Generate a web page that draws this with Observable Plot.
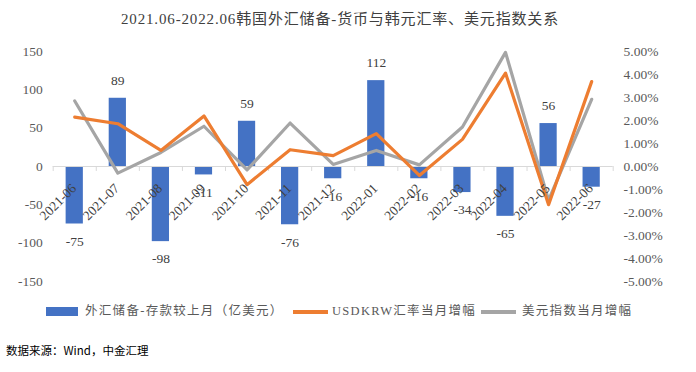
<!DOCTYPE html>
<html><head><meta charset="utf-8">
<script src="https://cdn.jsdelivr.net/npm/d3@7"></script>
<script src="https://cdn.jsdelivr.net/npm/@observablehq/plot@0.6"></script>
<style>
body{margin:0;background:#fff;width:696px;height:372px;overflow:hidden;position:relative;font-family:"Liberation Serif","Noto Sans CJK SC",serif;}
#title{position:absolute;top:0;left:0;width:696px;height:38px;line-height:38px;text-align:center;font-size:15px;letter-spacing:0.85px;color:#404040;padding-right:16px;box-sizing:border-box;}
#chart{position:absolute;top:35px;left:0;}
#legend{position:absolute;top:301px;left:0;width:696px;height:20px;font-size:12.5px;letter-spacing:1.3px;color:#595959;}
#legend span{position:absolute;top:0;line-height:20px;white-space:nowrap;}
.sw{position:absolute;}
#src{position:absolute;top:342px;left:6px;font-size:11.5px;color:#000;font-family:"Noto Sans CJK SC","Liberation Sans",sans-serif;}
g[aria-label="month-labels"] text{letter-spacing:0.6px;}
</style></head><body>
<div id="title">2021.06-2022.06韩国外汇储备-货币与韩元汇率、美元指数关系</div>
<div id="chart"></div>
<div id="legend">
  <div class="sw" style="left:46px;top:6px;width:32px;height:9px;background:#4472C4"></div>
  <span style="left:85px">外汇储备-存款较上月（亿美元）</span>
  <div class="sw" style="left:293px;top:9px;width:35px;height:3.5px;background:#ED7D31"></div>
  <span style="left:332px">USDKRW汇率当月增幅</span>
  <div class="sw" style="left:481px;top:9px;width:35px;height:3.5px;background:#A5A5A5"></div>
  <span style="left:522px">美元指数当月增幅</span>
</div>
<div id="src">数据来源：Wind，中金汇理</div>
<script>
const months = ["2021-06","2021-07","2021-08","2021-09","2021-10","2021-11","2021-12","2022-01","2022-02","2022-03","2022-04","2022-05","2022-06"];
const reserves = [-75, 89, -98, -11, 59, -76, -16, 112, -16, -34, -65, 56, -27];
const usdkrw = [2.15, 1.86, 0.70, 2.20, -0.79, 0.73, 0.47, 1.43, -0.39, 1.18, 4.06, -1.66, 3.69];
const dxy = [2.85, -0.29, 0.61, 1.75, -0.15, 1.89, 0.09, 0.70, 0.07, 1.72, 4.96, -1.46, 2.92];
const leftTicks = [-150, -100, -50, 0, 50, 100, 150];
const rightTicks = [-5, -4, -3, -2, -1, 0, 1, 2, 3, 4, 5];

const K = 30; // 1% on the right axis = 30 units on the left axis
const rows = months.map((m, i) => ({i, m, v: reserves[i], a: usdkrw[i] * K, b: dxy[i] * K}));
const bounds = d3.range(months.length + 1).map(i => i - 0.5);

const chart = Plot.plot({
  width: 696, height: 260,
  marginTop: 16, marginBottom: 14, marginLeft: 52.7, marginRight: 83.3,
  style: {fontFamily: "Liberation Serif, serif", fontSize: "13px", color: "#595959", background: "transparent"},
  x: {type: "linear", domain: [-0.5, months.length - 0.5], axis: null},
  y: {domain: [-150, 150], axis: null},
  marks: [
    Plot.rectY(rows, {x1: d => d.i - 0.2, x2: d => d.i + 0.2, y1: 0, y2: "v", fill: "#4472C4"}),
    Plot.ruleY([0], {stroke: "#D9D9D9", strokeWidth: 1}),
    Plot.ruleX(bounds, {x: d => d, y1: 0, y2: -6.5, stroke: "#D9D9D9"}),
    Plot.line(rows, {x: "i", y: "b", stroke: "#A5A5A5", strokeWidth: 3.2, strokeLinejoin: "round"}),
    Plot.line(rows, {x: "i", y: "a", stroke: "#ED7D31", strokeWidth: 3.2, strokeLinejoin: "round"}),
    Plot.text(rows.filter(d => d.v >= 0), {x: "i", y: "v", text: d => String(d.v), dy: -17.5, fill: "#404040", fontSize: 13.5}),
    Plot.text(rows.filter(d => d.v < 0), {x: "i", y: "v", text: d => String(d.v), dy: 17.5, fill: "#404040", fontSize: 13.5}),
    Plot.text(rows, {x: d => d.i - 0.02, y: -25.5, text: "m", rotate: -45, textAnchor: "end", fill: "#404040", fontSize: 13.5, ariaLabel: "month-labels"}),
    Plot.axisY({anchor: "left", ticks: leftTicks, tickSize: 0, tickPadding: 10.5, tickFormat: d => String(d), label: null, fill: "#595959", fontSize: 13.5}),
    Plot.axisY({anchor: "right", ticks: rightTicks.map(d => d * K), tickSize: 0, tickPadding: 10.3, tickFormat: d => (d / K).toFixed(2) + "%", label: null, fill: "#595959", fontSize: 13.5})
  ]
});
document.getElementById("chart").appendChild(chart);
</script>
</body></html>
